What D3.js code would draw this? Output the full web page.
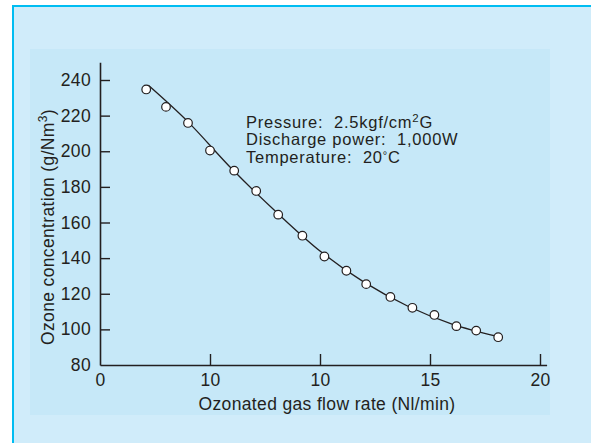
<!DOCTYPE html>
<html>
<head>
<meta charset="utf-8">
<script src="https://cdn.jsdelivr.net/npm/d3@7"></script>
<style>
  body { margin: 0; background: #ffffff; }
  text { font-family: "Liberation Sans", Arial, Helvetica, sans-serif; fill: #231f20; letter-spacing: 0.35px; }
</style>
</head>
<body>
<div id="chart"></div>
<script>
// data
var flowRate = [2.1, 3.0, 4.0, 5.0, 6.1, 7.1, 8.1, 9.2, 10.2, 11.2, 12.1, 13.2, 14.2, 15.2, 16.2, 17.1, 18.1];
var ozoneConc = [234.7, 224.9, 215.9, 200.4, 189.1, 177.7, 164.4, 152.6, 140.9, 132.9, 125.4, 118.2, 112.1, 108.1, 101.8, 99.3, 95.6];

// fitted curve drawn through the points
var fitFlow = [2.2, 4, 6, 8, 10, 12, 14, 16, 18.1];
var fitConc = [237, 216.5, 190, 166, 144, 126.5, 113, 103, 96];

// tick labels (the second one really says 10 in the original)
var xTicks = [0, 5, 10, 15, 20];
var xTickLabels = ["0", "10", "10", "15", "20"];
var yTicks = [80, 100, 120, 140, 160, 180, 200, 220, 240];

var notes = ["Pressure:  2.5kgf/cm", "Discharge power:  1,000W", "Temperature:  20"];

var svgWidth = 591;
var svgHeight = 443;

var svg = d3.select("#chart")
  .append("svg")
  .attr("width", svgWidth)
  .attr("height", svgHeight);

// outer frame + inner panel
svg.append("rect")
  .attr("x", 13).attr("y", 6)
  .attr("width", svgWidth).attr("height", svgHeight)
  .attr("fill", "#d0ecfa")
  .attr("stroke", "#00bdf2")
  .attr("stroke-width", 2);

svg.append("rect")
  .attr("x", 30).attr("y", 49)
  .attr("width", 520).attr("height", 366)
  .attr("fill", "#c6e8f8");

// scales - domains run a bit past the last tick so the axis lines overshoot
var xScale = d3.scaleLinear().domain([0, 20.3]).range([100, 100 + 20.3 * 22]);
var yScale = d3.scaleLinear().domain([80, 250]).range([365, 365 - 170 * 285 / 160]);

var fontSize = 17.5;

var xAxis = d3.axisBottom(xScale)
  .tickValues(xTicks)
  .tickFormat(function(d, i) { return xTickLabels[i]; })
  .tickSizeInner(-11)
  .tickSizeOuter(0)
  .tickPadding(9);

var yAxis = d3.axisLeft(yScale)
  .tickValues(yTicks)
  .tickSizeInner(-10)
  .tickSizeOuter(0)
  .tickPadding(9);

var xg = svg.append("g")
  .attr("transform", "translate(0, 365)")
  .call(xAxis);

var yg = svg.append("g")
  .attr("transform", "translate(100, 0)")
  .call(yAxis);

[xg, yg].forEach(function(g) {
  g.attr("font-family", null).attr("font-size", null);
  g.select(".domain").attr("stroke", "#231f20").attr("stroke-width", 1.6);
  g.selectAll(".tick line").attr("stroke", "#231f20").attr("stroke-width", 1.4);
  g.selectAll(".tick text").style("font-size", fontSize + "px").attr("fill", "#231f20");
});

// no tick marks at the corner
xg.selectAll(".tick").filter(function(d) { return d === 0; }).select("line").remove();
yg.selectAll(".tick").filter(function(d) { return d === 80; }).select("line").remove();

// axis titles
svg.append("text")
  .attr("x", 327)
  .attr("y", 410)
  .attr("text-anchor", "middle")
  .style("font-size", fontSize + "px")
  .text("Ozonated gas flow rate (Nl/min)");

var yTitle = svg.append("text")
  .attr("transform", "translate(54, 227) rotate(-90)")
  .attr("text-anchor", "middle")
  .style("font-size", fontSize + "px");
yTitle.append("tspan").text("Ozone concentration (g/Nm");
yTitle.append("tspan").attr("dy", -7).style("font-size", "12px").text("3");
yTitle.append("tspan").attr("dy", 7).text(")");

// fitted curve
var line = d3.line()
  .x(function(d, i) { return xScale(fitFlow[i]); })
  .y(function(d) { return yScale(d); })
  .curve(d3.curveCatmullRom);

svg.append("path")
  .attr("d", line(fitConc))
  .attr("fill", "none")
  .attr("stroke", "#231f20")
  .attr("stroke-width", 1.3);

// measured points
svg.selectAll("circle.pt")
  .data(ozoneConc)
  .enter()
  .append("circle")
  .attr("class", "pt")
  .attr("cx", function(d, i) { return xScale(flowRate[i]); })
  .attr("cy", function(d) { return yScale(d); })
  .attr("r", 4.3)
  .attr("fill", "#ffffff")
  .attr("stroke", "#231f20")
  .attr("stroke-width", 1.2);

// conditions note - a touch smaller so the three lines don't collide
var noteSize = 16.5;
var noteGroup = svg.append("g").attr("transform", "translate(246, 127.5)");
notes.forEach(function(n, i) {
  var t = noteGroup.append("text")
    .attr("y", i * 17.5)
    .attr("xml:space", "preserve")
    .style("white-space", "pre")
    .style("letter-spacing", "0.75px")
    .style("font-size", noteSize + "px")
    .text(n);
  if (i === 0) {
    t.append("tspan").attr("dy", -6).style("font-size", "11.5px").text("2");
    t.append("tspan").attr("dy", 6).text("G");
  }
  if (i === 2) {
    t.append("tspan").attr("dy", -4).style("font-size", "11px").text("\u00B0");
    t.append("tspan").attr("dy", 4).text("C");
  }
});
</script>
</body>
</html>
